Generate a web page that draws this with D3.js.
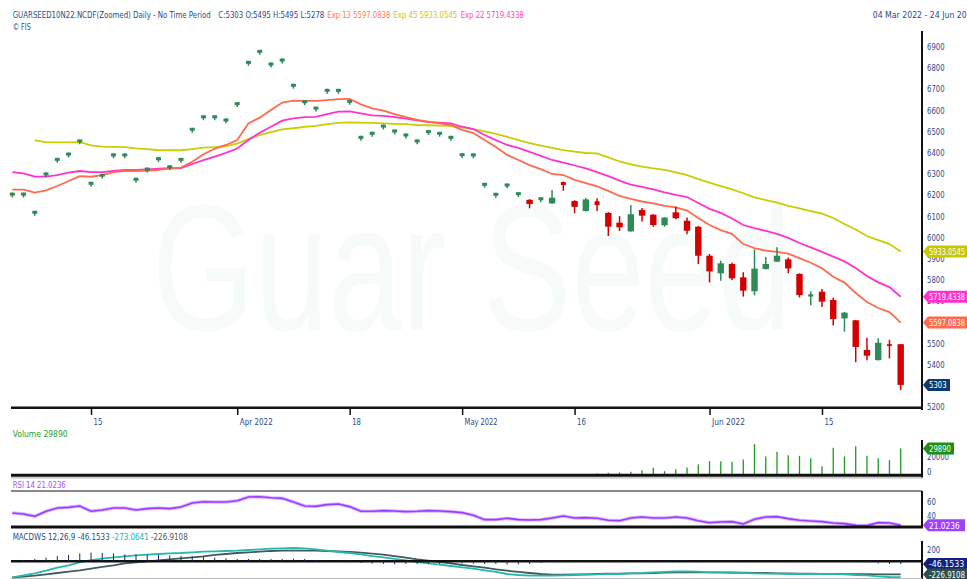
<!DOCTYPE html>
<html>
<head>
<meta charset="utf-8">
<script src="https://cdn.jsdelivr.net/npm/d3@7"></script>
<style>
  body { margin: 0; background: #fff; }
  svg { display: block; font-family: "Liberation Sans Narrow", "DejaVu Sans Condensed", "Liberation Sans", sans-serif; }
</style>
</head>
<body>
<script>
// trading days, 2022 (MM-DD)
const dates = ["03-04","03-07","03-08","03-09","03-10","03-11","03-14","03-15","03-16","03-17",
  "03-18","03-21","03-22","03-23","03-24","03-25","03-28","03-29","03-30","03-31",
  "04-01","04-04","04-05","04-06","04-07","04-08","04-11","04-12","04-13","04-14",
  "04-18","04-19","04-20","04-21","04-22","04-25","04-26","04-27","04-28","04-29",
  "05-02","05-03","05-04","05-05","05-06","05-09","05-10","05-11","05-12","05-13",
  "05-16","05-17","05-18","05-19","05-20","05-23","05-24","05-25","05-26","05-27",
  "05-30","05-31","06-01","06-02","06-03","06-06","06-07","06-08","06-09","06-10",
  "06-13","06-14","06-15","06-16","06-17","06-20","06-21","06-22","06-23","06-24"];

const opens = [6197,6197,6111,6292,6361,6386,6448,6248,6286,6382,
  6382,6267,6315,6364,6326,6361,6503,6562,6562,6547,
  6624,6819,6871,6811,6830,6711,6633,6603,6687,6687,
  6635,6465,6484,6518,6495,6476,6448,6492,6484,6465,
  6383,6382,6243,6196,6240,6199,6177,6175,6160,6261,
  6171,6124,6170,6115,6069,6028,6129,6107,6057,6118,
  6078,6050,5913,5830,5874,5811,5745,5850,5885,5896,
  5827,5720,5743,5704,5617,5608,5468,5420,5495,5495];
const highs = [6211,6211,6125,6306,6375,6400,6462,6262,6300,6396,
  6396,6281,6329,6378,6340,6375,6517,6576,6576,6561,
  6638,6833,6885,6825,6844,6725,6647,6617,6701,6701,
  6649,6479,6498,6532,6509,6490,6462,6506,6498,6479,
  6397,6396,6257,6210,6254,6213,6180,6189,6223,6263,
  6175,6185,6184,6119,6100,6152,6138,6109,6095,6144,
  6093,6053,5921,5889,5880,5835,5943,5907,5953,5904,
  5830,5745,5756,5715,5647,5610,5526,5523,5516,5495];
const lows = [6188,6188,6102,6283,6352,6377,6439,6239,6277,6373,
  6373,6258,6306,6355,6317,6352,6494,6553,6553,6538,
  6615,6810,6862,6802,6821,6702,6624,6594,6678,6678,
  6626,6456,6475,6509,6486,6467,6439,6483,6475,6456,
  6374,6373,6234,6187,6231,6190,6137,6166,6158,6220,
  6113,6122,6124,6006,6030,6026,6074,6050,6050,6085,
  6014,5874,5787,5795,5798,5720,5726,5848,5883,5830,
  5716,5679,5671,5584,5554,5410,5419,5418,5428,5278];
const closes = [6211,6211,6125,6306,6375,6400,6462,6262,6300,6396,
  6396,6281,6329,6378,6340,6375,6517,6576,6576,6561,
  6638,6833,6885,6825,6844,6725,6647,6617,6701,6701,
  6649,6479,6498,6532,6509,6490,6462,6506,6498,6479,
  6397,6396,6257,6210,6254,6213,6157,6189,6187,6247,
  6144,6179,6152,6050,6047,6109,6102,6058,6093,6090,
  6031,5913,5839,5877,5806,5748,5852,5874,5913,5853,
  5727,5731,5696,5614,5644,5482,5441,5502,5487,5303];

const ema13 = [6225,6225,6211,6222,6242,6266,6289,6286,6293,6308,
  6314,6312,6314,6319,6324,6329,6357,6392,6418,6436,
  6459,6538,6565,6601,6636,6645,6644,6644,6648,6652,
  6654,6628,6609,6598,6582,6567,6554,6546,6538,6530,
  6507,6492,6459,6426,6389,6365,6341,6322,6299,6294,
  6271,6256,6240,6219,6195,6181,6169,6160,6148,6141,
  6126,6091,6058,6034,6016,5968,5949,5937,5931,5923,
  5902,5880,5854,5814,5786,5737,5694,5666,5647,5597.0838];
const ema22 = [6308,6302,6286,6286,6294,6305,6313,6308,6308,6313,
  6318,6318,6321,6324,6326,6327,6346,6364,6381,6399,
  6419,6459,6494,6522,6551,6562,6567,6569,6582,6593,
  6595,6585,6576,6573,6567,6560,6552,6544,6541,6538,
  6522,6511,6483,6459,6436,6422,6403,6384,6365,6352,
  6339,6325,6308,6289,6268,6249,6238,6226,6212,6200,
  6190,6162,6134,6115,6089,6058,6043,6030,6016,5997,
  5973,5952,5931,5909,5886,5855,5817,5787,5765,5719.4338];
const ema45 = [null,null,6458,6449,6448,6448,6449,6434,6428,6427,
  6426,6420,6416,6411,6411,6411,6416,6423,6426,6431,
  6442,6464,6483,6497,6510,6515,6521,6526,6534,6540,
  6543,6541,6540,6538,6536,6534,6530,6529,6527,6526,
  6519,6511,6500,6488,6474,6459,6445,6433,6422,6412,
  6405,6398,6396,6377,6358,6344,6334,6325,6318,6306,
  6294,6275,6258,6242,6226,6208,6189,6176,6164,6148,
  6136,6124,6112,6091,6063,6037,6006,5987,5968,5933.0545];

const volume = [0,0,0,0,0,0,0,0,0,0, 0,0,0,0,0,0,0,0,0,0,
  0,0,0,0,0,0,0,0,0,0, 0,0,0,0,0,0,0,0,0,0,
  0,0,0,0,0,0,0,0,0,380,
  0,380,1150,1900,2300,3070,4980,7660,3830,6130,
  8050,11500,15330,15330,14560,17240,34880,20690,26060,22230,
  21460,18780,9580,30660,20690,32570,21460,18780,16480,29890];

const rsi14 = [38.2,36.8,33.6,40.6,45.2,46.1,48.0,40.6,42.4,45.2,
  45.2,42.4,44.3,45.2,44.3,46.6,52.2,54.0,53.6,53.6,
  55.4,60.5,61.0,59.6,58.7,53.6,48.0,47.5,49.9,50.8,
  47.1,40.6,40.6,41.5,41.0,40.1,40.6,41.5,41.0,40.1,
  38.7,35.0,28.9,28.9,30.8,28.9,28.5,28.9,31.3,34.0,
  31.3,31.7,30.8,28.0,27.5,31.3,32.6,31.3,31.3,32.6,
  31.3,27.5,24.7,25.7,26.1,22.9,29.4,32.6,33.1,30.3,
  28.0,27.0,26.1,24.3,23.3,21.0,20.6,24.7,24.3,21.0236];

const macdLine = [-276,-242,-207,-162,-110,-70,-18,22,45,68,
  86,103,114,126,137,143,155,166,172,178,
  183,195,206,218,224,229,224,206,183,160,
  143,120,91,68,40,17,-12,-35,-58,-81,
  -104,-127,-156,-184,-219,-236,-248,-248,-248,-242,
  -236,-230,-225,-219,-219,-207,-202,-190,-184,-173,
  -173,-179,-190,-196,-202,-202,-207,-213,-213,-219,
  -219,-219,-219,-219,-225,-236,-242,-259,-271,-273.0641];
const signalLine = [-276,-265,-248,-225,-202,-179,-156,-127,-98,-70,
  -35,-18,-1,17,34,51,68,86,109,126,
  143,155,166,178,183,183,183,183,178,172,
  160,149,132,114,91,63,34,11,-12,-35,
  -64,-87,-110,-138,-162,-184,-202,-219,-230,-230,
  -225,-225,-219,-213,-213,-207,-207,-202,-196,-190,
  -190,-190,-190,-190,-190,-196,-202,-202,-207,-207,
  -213,-213,-219,-219,-221,-222,-223,-224,-225,-226.9108];

const tickDates = ["03-15","04-01","04-18","05-02","05-16","06-01","06-15"];
const tickText = ["15","Apr 2022","18","May 2022","16","Jun 2022","15"];
const priceTicks = [5200,5300,5400,5500,5600,5700,5800,5900,6000,6100,6200,6300,6400,6500,6600,6700,6800,6900];
const lastValues = [5933.0545, 5719.4338, 5597.0838, 5303];

const W = 967, H = 579, axisX = 922;
const navy = "#2c4a86", green = "#2e8b57", red = "#d40000";
const fs = 9;

const svg = d3.select("body").append("svg").attr("width", W).attr("height", H);
svg.append("rect").attr("width", W).attr("height", H).attr("fill", "#fff");

const x = d3.scalePoint().domain(dates).range([12.3, 900.7]);
const y = d3.scaleLinear().domain([5200, 6900]).range([406.7, 46.7]);
const yv = d3.scaleLinear().domain([0, 29890]).range([474.5, 448.5]);
const yr = d3.scaleLinear().domain([21.0236, 60]).range([525.3, 497.4]);
const ym = d3.scaleLinear().domain([0, 200]).range([561.3, 549.7]);

// watermark (squeezed horizontally so it spans the plot like the original)
const wm = svg.append("text")
  .attr("font-family", "Liberation Sans, Arial, sans-serif")
  .attr("font-size", 180).attr("fill", "#f6faf8").text("Guar Seed");
const wmW = wm.node().getComputedTextLength();
wm.attr("transform", `translate(152,330) scale(${640 / wmW},1)`);

function label(g, xx, yy, txt, col, len) {
  const t = g.append("text").attr("x", xx).attr("y", yy).attr("font-size", fs).attr("fill", col).text(txt);
  if (len) t.attr("textLength", len).attr("lengthAdjust", "spacingAndGlyphs");
  return t;
}
function styleAxis(a, tl) {
  a.attr("font-family", null).attr("font-size", null);
  a.select(".domain").remove();
  a.selectAll("text").attr("font-size", fs).attr("fill", navy);
  if (tl) a.selectAll("text").attr("textLength", function () { return tl(this.textContent); })
    .attr("lengthAdjust", "spacingAndGlyphs");
}

// header
label(svg, 12.7, 18, "GUARSEED10N22.NCDF(Zoomed) Daily -  No Time Period", navy, 198);
label(svg, 218.3, 18, "C:5303 O:5495 H:5495 L:5278", navy, 106);
label(svg, 327.3, 18, "Exp 13 5597.0838", "#ff7a5a", 63);
label(svg, 393.3, 18, "Exp 45 5933.0545", "#c8c81e", 64);
label(svg, 460.7, 18, "Exp 22 5719.4338", "#ff3fc8", 63);
label(svg, 12.7, 29.5, "\u00a9 FIS", navy, 18);
label(svg, 872.7, 18, "04 Mar 2022  -  24 Jun 2022", navy, 104);

// main panel axes
svg.append("line").attr("x1", axisX).attr("x2", axisX).attr("y1", 31).attr("y2", 410)
  .attr("stroke", "#111").attr("stroke-width", 2);
svg.append("line").attr("x1", 11).attr("x2", axisX + 1).attr("y1", 407.7).attr("y2", 407.7)
  .attr("stroke", "#111").attr("stroke-width", 2.5);

// price labels hidden under a value tag are not drawn (they are covered in the original)
const visibleTicks = priceTicks.filter(t => !lastValues.some(v => Math.abs(y(t) - y(v)) < 3));
const digitW = s => s.length * 4.4;
const yAxis = svg.append("g").attr("transform", `translate(${axisX},0)`)
  .call(d3.axisRight(y).tickValues(visibleTicks).tickSize(0).tickPadding(5).tickFormat(d3.format("d")));
styleAxis(yAxis, digitW);

const xAxis = svg.append("g").attr("transform", "translate(0,408)")
  .call(d3.axisBottom(x).tickValues(tickDates).tickSize(7).tickFormat((d, i) => tickText[i]));
styleAxis(xAxis, s => s.length > 2 ? 33 : 8.8);
xAxis.selectAll("line").attr("stroke", "#111").attr("stroke-width", 1.5);
xAxis.selectAll("text").attr("text-anchor", "start").attr("x", 2).attr("y", 11);

// moving averages
const idx = d3.range(dates.length);
function maLine(arr, col) {
  svg.append("path")
    .datum(idx.filter(i => arr[i] != null))
    .attr("fill", "none").attr("stroke", col).attr("stroke-width", 1.8)
    .attr("d", d3.line().x(i => x(dates[i])).y(i => y(arr[i])));
}
maLine(ema45, "#cccc00");
maLine(ema22, "#ff33cc");
maLine(ema13, "#ff6a4d");

// candles
const candles = svg.append("g").selectAll("g").data(idx).join("g");
candles.append("line")
  .attr("x1", i => x(dates[i])).attr("x2", i => x(dates[i]))
  .attr("y1", i => y(highs[i])).attr("y2", i => y(lows[i]))
  .attr("stroke", i => closes[i] >= opens[i] ? green : red).attr("stroke-width", 1.5);
candles.append("rect")
  .attr("x", i => x(dates[i]) - (Math.abs(closes[i] - opens[i]) < 20 ? 2.5 : 3.2))
  .attr("width", i => Math.abs(closes[i] - opens[i]) < 20 ? 5 : 6.4)
  .attr("y", i => y(Math.max(opens[i], closes[i])))
  .attr("height", i => Math.max(1.5, Math.abs(y(opens[i]) - y(closes[i]))))
  .attr("fill", i => closes[i] >= opens[i] ? green : red);

// value tags on the right axis
function tag(yy, txt, col, w) {
  const g = svg.append("g").attr("transform", `translate(${axisX + 1},${yy})`);
  g.append("path").attr("d", `M0,0 L5,-6 L${w},-6 L${w},6 L5,6 Z`).attr("fill", col);
  const tw = Math.min(txt.length * 4.4, W - axisX - 9);
  g.append("text").attr("x", 6).attr("y", 3.5).attr("font-size", fs).attr("fill", "#fff")
    .attr("textLength", tw).attr("lengthAdjust", "spacingAndGlyphs").text(txt);
}
tag(y(5933.0545), "5933.0545", "#c8c800", 50);
tag(y(5719.4338), "5719.4338", "#ff33cc", 50);
tag(y(5597.0838), "5597.0838", "#ff6a4d", 50);
tag(y(5303), "5303", "#0d3a6e", 27);

// volume panel
label(svg, 12.7, 437, "Volume  29890", "#2a9d2a", 55);
svg.append("line").attr("x1", axisX).attr("x2", axisX).attr("y1", 440).attr("y2", 478)
  .attr("stroke", "#111").attr("stroke-width", 2);
svg.append("g").selectAll("line").data(idx.filter(i => volume[i] > 0)).join("line")
  .attr("x1", i => x(dates[i])).attr("x2", i => x(dates[i]))
  .attr("y1", yv(0)).attr("y2", i => yv(volume[i]))
  .attr("stroke", "#1f9a1f").attr("stroke-width", 1.3);
svg.append("line").attr("x1", 11).attr("x2", axisX + 1).attr("y1", 475.3).attr("y2", 475.3)
  .attr("stroke", "#111").attr("stroke-width", 3);
svg.append("line").attr("x1", 11).attr("x2", axisX + 1).attr("y1", 477.8).attr("y2", 477.8)
  .attr("stroke", "#bbb").attr("stroke-width", 1.2);
const vAxis = svg.append("g").attr("transform", `translate(${axisX},0)`)
  .call(d3.axisRight(yv).tickValues([0, 20000]).tickSize(0).tickPadding(5).tickFormat(d3.format("d")));
styleAxis(vAxis, digitW);
vAxis.selectAll("text").attr("dy", d => d === 0 ? "-0.05em" : "0.3em");
tag(yv(29890), "29890", "#1a8f1a", 31);

// RSI panel
label(svg, 12.7, 488, "RSI 14 21.0236", "#a64dff", 53);
svg.append("line").attr("x1", 11).attr("x2", axisX).attr("y1", 491).attr("y2", 491)
  .attr("stroke", "#111").attr("stroke-width", 1);
svg.append("line").attr("x1", axisX).attr("x2", axisX).attr("y1", 491).attr("y2", 528)
  .attr("stroke", "#111").attr("stroke-width", 2);
svg.append("defs").append("clipPath").attr("id", "rsiClip")
  .append("rect").attr("x", 0).attr("y", 491).attr("width", axisX).attr("height", 35);
const rsiPath = d3.line().x(i => x(dates[i])).y(i => yr(rsi14[i]));
svg.append("path").datum(idx).attr("clip-path", "url(#rsiClip)").attr("fill", "none")
  .attr("stroke", "#dcb8ff").attr("stroke-width", 3.5).attr("d", rsiPath);
svg.append("path").datum(idx).attr("clip-path", "url(#rsiClip)").attr("fill", "none")
  .attr("stroke", "#9d3cff").attr("stroke-width", 1.6).attr("d", rsiPath);
svg.append("line").attr("x1", 11).attr("x2", axisX + 1).attr("y1", 527).attr("y2", 527)
  .attr("stroke", "#111").attr("stroke-width", 3);
const rAxis = svg.append("g").attr("transform", `translate(${axisX},0)`)
  .call(d3.axisRight(yr).tickValues([40, 60]).tickSize(0).tickPadding(5));
styleAxis(rAxis, digitW);
rAxis.selectAll("text").attr("dy", "0.75em");
tag(yr(21.0236), "21.0236", "#a040ff", 42);

// MACD panel
const mh = svg.append("text").attr("x", 12.7).attr("y", 540).attr("font-size", fs)
  .attr("textLength", 175).attr("lengthAdjust", "spacingAndGlyphs");
mh.append("tspan").attr("fill", navy).text("MACDWS 12,26,9 -46.1533 ");
mh.append("tspan").attr("fill", "#20b2aa").text("-273.0641 ");
mh.append("tspan").attr("fill", "#555").text("-226.9108");
svg.append("line").attr("x1", axisX).attr("x2", axisX).attr("y1", 541).attr("y2", 579)
  .attr("stroke", "#111").attr("stroke-width", 2);
svg.append("line").attr("x1", 11).attr("x2", axisX).attr("y1", 578.5).attr("y2", 578.5)
  .attr("stroke", "#bbb").attr("stroke-width", 1);
svg.append("defs").append("clipPath").attr("id", "macdClip")
  .append("rect").attr("x", 0).attr("y", 541).attr("width", axisX).attr("height", 38);
const mg = svg.append("g").attr("clip-path", "url(#macdClip)");
svg.append("line").attr("x1", 11).attr("x2", axisX + 1).attr("y1", ym(0)).attr("y2", ym(0))
  .attr("stroke", "#111").attr("stroke-width", 2.5);
svg.append("g").selectAll("line").data(idx).join("line")
  .attr("x1", i => x(dates[i])).attr("x2", i => x(dates[i]))
  .attr("y1", ym(0)).attr("y2", i => ym(macdLine[i] - signalLine[i]))
  .attr("stroke", "#1a237e").attr("stroke-width", 1);
mg.append("path").datum(idx).attr("fill", "none").attr("stroke", "#3e5c5c").attr("stroke-width", 1.8)
  .attr("d", d3.line().x(i => x(dates[i])).y(i => ym(signalLine[i])));
mg.append("path").datum(idx).attr("fill", "none").attr("stroke", "#27b8ad").attr("stroke-width", 1.8)
  .attr("d", d3.line().x(i => x(dates[i])).y(i => ym(macdLine[i])));
const mAxis = svg.append("g").attr("transform", `translate(${axisX},0)`)
  .call(d3.axisRight(ym).tickValues([200]).tickSize(0).tickPadding(5));
styleAxis(mAxis, digitW);
tag(ym(-46.1533), "-46.1533", "#14207a", 44);
tag(ym(-226.9108), "-226.9108", "#2f4f4f", 48);
</script>
</body>
</html>
